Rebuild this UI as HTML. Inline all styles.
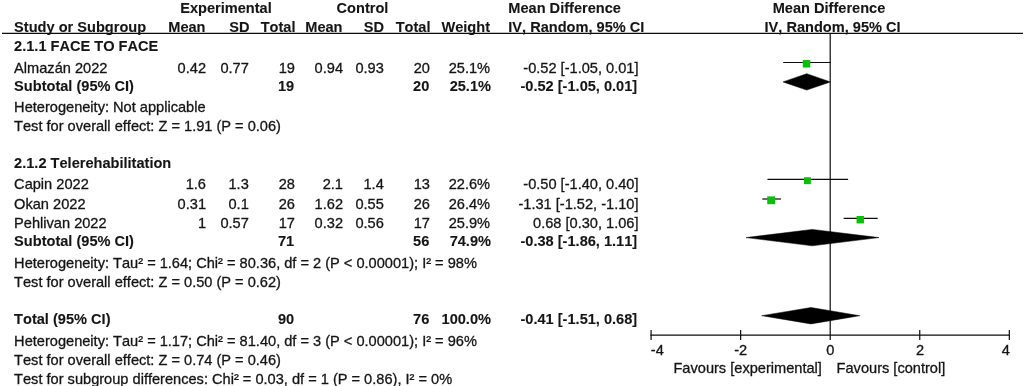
<!DOCTYPE html>
<html><head><meta charset="utf-8"><title>Forest plot</title>
<style>
html,body{margin:0;padding:0;background:#fff;}
svg{display:block}
text{font-family:"Liberation Sans",Arial,sans-serif;font-size:14.6px;fill:#151515;font-kerning:none;stroke:#151515;stroke-width:0.3px}
.b{font-weight:bold;font-size:14.58px;stroke-width:0.1px}
</style></head><body>
<svg width="1025" height="386" viewBox="0 0 1025 386">
<rect width="1025" height="386" fill="#fff"/>
<line x1="2" y1="33.3" x2="1023" y2="33.3" stroke="#0c0c0c" stroke-width="1.2"/>
<line x1="830.2" y1="33" x2="830.2" y2="339.9" stroke="#0c0c0c" stroke-width="1.2"/>
<line x1="650.38" y1="335.2" x2="1010.0200000000001" y2="335.2" stroke="#0c0c0c" stroke-width="1.2"/>
<line x1="651.08" y1="330" x2="651.08" y2="339.9" stroke="#0c0c0c" stroke-width="1.2"/>
<line x1="740.64" y1="330" x2="740.64" y2="339.9" stroke="#0c0c0c" stroke-width="1.2"/>
<line x1="919.76" y1="330" x2="919.76" y2="339.9" stroke="#0c0c0c" stroke-width="1.2"/>
<line x1="1009.32" y1="330" x2="1009.32" y2="339.9" stroke="#0c0c0c" stroke-width="1.2"/>
<line x1="783.18" y1="62.5" x2="830.65" y2="62.5" stroke="#0c0c0c" stroke-width="1.2"/>
<rect x="802.76" y="60.05" width="7.5" height="7.5" fill="#0abf0a"/>
<polygon points="782.98,81.9 806.71,73.7 830.45,81.9 806.71,90.10000000000001" fill="#000" stroke="#000" stroke-width="0.5" stroke-linejoin="miter" stroke-miterlimit="10"/>
<line x1="767.51" y1="179.4" x2="848.11" y2="179.4" stroke="#0c0c0c" stroke-width="1.2"/>
<rect x="803.96" y="177.25" width="6.9" height="6.9" fill="#0abf0a"/>
<line x1="762.13" y1="199" x2="780.94" y2="199" stroke="#0c0c0c" stroke-width="1.2"/>
<rect x="767.24" y="196.40" width="7.8" height="7.8" fill="#0abf0a"/>
<line x1="843.63" y1="218.4" x2="877.67" y2="218.4" stroke="#0c0c0c" stroke-width="1.2"/>
<rect x="856.55" y="216.00" width="7.4" height="7.4" fill="#0abf0a"/>
<polygon points="746.01,237.6 812.28,229.4 879.01,237.6 812.28,245.79999999999998" fill="#000" stroke="#000" stroke-width="0.5" stroke-linejoin="miter" stroke-miterlimit="10"/>
<polygon points="761.68,315.7 810.94,307.5 859.75,315.7 810.94,323.9" fill="#000" stroke="#000" stroke-width="0.5" stroke-linejoin="miter" stroke-miterlimit="10"/>
<text x="226" y="13.2" text-anchor="middle" class="b">Experimental</text>
<text x="362.5" y="13.2" text-anchor="middle" class="b">Control</text>
<text x="508.3" y="13.2" text-anchor="start" class="b">Mean Difference</text>
<text x="829" y="13.2" text-anchor="middle" class="b">Mean Difference</text>
<text x="14.1" y="31.8" text-anchor="start" class="b">Study or Subgroup</text>
<text x="205.5" y="31.8" text-anchor="end" class="b">Mean</text>
<text x="249.5" y="31.8" text-anchor="end" class="b">SD</text>
<text x="295.5" y="31.8" text-anchor="end" class="b">Total</text>
<text x="342.5" y="31.8" text-anchor="end" class="b">Mean</text>
<text x="384" y="31.8" text-anchor="end" class="b">SD</text>
<text x="430.5" y="31.8" text-anchor="end" class="b">Total</text>
<text x="490" y="31.8" text-anchor="end" class="b">Weight</text>
<text x="508.3" y="31.8" text-anchor="start" class="b">IV, Random, 95% CI</text>
<text x="832.6" y="31.8" text-anchor="middle" class="b">IV, Random, 95% CI</text>
<text x="14.1" y="51.1" text-anchor="start" class="b">2.1.1 FACE TO FACE</text>
<text x="14.1" y="168.1" text-anchor="start" class="b">2.1.2 Telerehabilitation</text>
<text x="14.1" y="72.5" text-anchor="start">Almazán 2022</text>
<text x="206.0" y="72.5" text-anchor="end">0.42</text>
<text x="248.8" y="72.5" text-anchor="end">0.77</text>
<text x="294.9" y="72.5" text-anchor="end">19</text>
<text x="343.0" y="72.5" text-anchor="end">0.94</text>
<text x="383.8" y="72.5" text-anchor="end">0.93</text>
<text x="429.9" y="72.5" text-anchor="end">20</text>
<text x="490.1" y="72.5" text-anchor="end">25.1%</text>
<text x="638.5" y="72.5" text-anchor="end">-0.52 [-1.05, 0.01]</text>
<text x="14.1" y="90.8" text-anchor="start" class="b">Subtotal (95% CI)</text>
<text x="294.1" y="90.8" text-anchor="end" class="b">19</text>
<text x="429.3" y="90.8" text-anchor="end" class="b">20</text>
<text x="491.0" y="90.8" text-anchor="end" class="b">25.1%</text>
<text x="637.2" y="90.8" text-anchor="end" class="b">-0.52 [-1.05, 0.01]</text>
<text x="14.1" y="189.4" text-anchor="start">Capin 2022</text>
<text x="206.0" y="189.4" text-anchor="end">1.6</text>
<text x="248.8" y="189.4" text-anchor="end">1.3</text>
<text x="294.9" y="189.4" text-anchor="end">28</text>
<text x="343.0" y="189.4" text-anchor="end">2.1</text>
<text x="383.8" y="189.4" text-anchor="end">1.4</text>
<text x="429.9" y="189.4" text-anchor="end">13</text>
<text x="490.1" y="189.4" text-anchor="end">22.6%</text>
<text x="638.5" y="189.4" text-anchor="end">-0.50 [-1.40, 0.40]</text>
<text x="14.1" y="208.7" text-anchor="start">Okan 2022</text>
<text x="206.0" y="208.7" text-anchor="end">0.31</text>
<text x="248.8" y="208.7" text-anchor="end">0.1</text>
<text x="294.9" y="208.7" text-anchor="end">26</text>
<text x="343.0" y="208.7" text-anchor="end">1.62</text>
<text x="383.8" y="208.7" text-anchor="end">0.55</text>
<text x="429.9" y="208.7" text-anchor="end">26</text>
<text x="490.1" y="208.7" text-anchor="end">26.4%</text>
<text x="638.5" y="208.7" text-anchor="end">-1.31 [-1.52, -1.10]</text>
<text x="14.1" y="228.2" text-anchor="start">Pehlivan 2022</text>
<text x="206.0" y="228.2" text-anchor="end">1</text>
<text x="248.8" y="228.2" text-anchor="end">0.57</text>
<text x="294.9" y="228.2" text-anchor="end">17</text>
<text x="343.0" y="228.2" text-anchor="end">0.32</text>
<text x="383.8" y="228.2" text-anchor="end">0.56</text>
<text x="429.9" y="228.2" text-anchor="end">17</text>
<text x="490.1" y="228.2" text-anchor="end">25.9%</text>
<text x="638.5" y="228.2" text-anchor="end">0.68 [0.30, 1.06]</text>
<text x="14.1" y="245.9" text-anchor="start" class="b">Subtotal (95% CI)</text>
<text x="294.1" y="245.9" text-anchor="end" class="b">71</text>
<text x="429.3" y="245.9" text-anchor="end" class="b">56</text>
<text x="491.0" y="245.9" text-anchor="end" class="b">74.9%</text>
<text x="637.2" y="245.9" text-anchor="end" class="b">-0.38 [-1.86, 1.11]</text>
<text x="14.1" y="323.7" text-anchor="start" class="b">Total (95% CI)</text>
<text x="294.1" y="323.7" text-anchor="end" class="b">90</text>
<text x="429.3" y="323.7" text-anchor="end" class="b">76</text>
<text x="491.0" y="323.7" text-anchor="end" class="b">100.0%</text>
<text x="637.2" y="323.7" text-anchor="end" class="b">-0.41 [-1.51, 0.68]</text>
<text x="14.1" y="111.9" text-anchor="start">Heterogeneity: Not applicable</text>
<text x="14.1" y="131" text-anchor="start">Test for overall effect: Z = 1.91 (P = 0.06)</text>
<text x="14.1" y="267.5" text-anchor="start">Heterogeneity: Tau² = 1.64; Chi² = 80.36, df = 2 (P &lt; 0.00001); I² = 98%</text>
<text x="14.1" y="287" text-anchor="start">Test for overall effect: Z = 0.50 (P = 0.62)</text>
<text x="14.1" y="345.5" text-anchor="start">Heterogeneity: Tau² = 1.17; Chi² = 81.40, df = 3 (P &lt; 0.00001); I² = 96%</text>
<text x="14.1" y="364.8" text-anchor="start">Test for overall effect: Z = 0.74 (P = 0.46)</text>
<text x="14.1" y="383.8" text-anchor="start">Test for subgroup differences: Chi² = 0.03, df = 1 (P = 0.86), I² = 0%</text>
<text x="657.3" y="355" text-anchor="middle">-4</text>
<text x="740.64" y="355" text-anchor="middle">-2</text>
<text x="830.2" y="355" text-anchor="middle">0</text>
<text x="920.06" y="355" text-anchor="middle">2</text>
<text x="1005.7" y="355" text-anchor="middle">4</text>
<text x="821.9" y="373" text-anchor="end">Favours [experimental]</text>
<text x="836.6" y="373" text-anchor="start">Favours [control]</text>
</svg>
</body></html>
